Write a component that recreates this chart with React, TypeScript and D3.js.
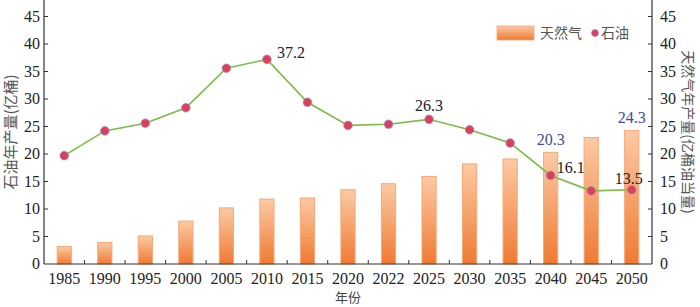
import React from 'react';
import * as d3 from 'd3';

const years = ['1985', '1990', '1995', '2000', '2005', '2010', '2015', '2020', '2022', '2025', '2030', '2035', '2040', '2045', '2050'];
const gasValues = [3.2, 3.9, 5.1, 7.8, 10.2, 11.8, 12.0, 13.5, 14.6, 15.9, 18.2, 19.1, 20.3, 23.0, 24.3];
const oilValues = [19.7, 24.2, 25.6, 28.4, 35.6, 37.2, 29.4, 25.2, 25.4, 26.3, 24.4, 22.0, 16.1, 13.3, 13.5];
const yTicks = [0, 5, 10, 15, 20, 25, 30, 35, 40, 45];
const oilLabels = ['2010', '2025', '2040', '2050'];
const gasLabels = ['2040', '2050'];

const W = 700;
const H = 307;
const margin = { top: 0, right: 48, bottom: 43, left: 44 };
const numFont = '"Liberation Serif", "Times New Roman", serif';
const cjkFont = '"Noto Sans CJK SC", sans-serif';

const App: React.FC = () => {
  const x = d3.scaleBand<string>()
    .domain(years)
    .range([margin.left, W - margin.right])
    .padding(0);

  const y = d3.scaleLinear()
    .domain([0, 48])
    .range([H - margin.bottom, margin.top]);

  const barW = x.bandwidth() * 0.35;
  const cx = (d: string) => (x(d) as number) + x.bandwidth() / 2;
  const bottom = y(0);

  const line = d3.line<number>()
    .x((_, i) => cx(years[i]))
    .y(d => y(d));

  const axisColor = '#333';

  return (
    <svg width={W} height={H} style={{ position: 'absolute', left: 0, top: 0 }}>
      <defs>
        <linearGradient id="gasGrad" x1="0%" y1="0%" x2="0%" y2="100%">
          <stop offset="0%" stopColor="#fccaa4" />
          <stop offset="100%" stopColor="#ef7a32" />
        </linearGradient>
      </defs>

      {/* bars */}
      {years.map((d, i) => (
        <rect
          key={'b' + d}
          x={cx(d) - barW / 2}
          y={y(gasValues[i])}
          width={barW}
          height={bottom - y(gasValues[i])}
          fill="url(#gasGrad)"
          stroke="#f6a878"
          strokeWidth={1}
        />
      ))}

      {/* oil line */}
      <path d={line(oilValues) || ''} fill="none" stroke="#7cbb45" strokeWidth={1.6} />
      {years.map((d, i) => (
        <circle key={'c' + d} cx={cx(d)} cy={y(oilValues[i])} r={4.3} fill="#dd3f5a" stroke="#9a8fc8" strokeWidth={0.8} />
      ))}

      {/* value labels */}
      {oilLabels.map(d => {
        const i = years.indexOf(d);
        const v = oilValues[i];
        let dx = 0;
        let dy = -8;
        let anchor: 'start' | 'middle' = 'middle';
        if (d === '2010') { dx = 10; dy = -1; anchor = 'start'; }
        if (d === '2040') { dx = 6; dy = -2; anchor = 'start'; }
        if (d === '2050') { dx = -3; dy = -6; }
        return (
          <text key={'ol' + d} x={cx(d) + dx} y={y(v) + dy} textAnchor={anchor}
            fontFamily={numFont} fontSize={16} fill="#222">{v.toFixed(1)}</text>
        );
      })}
      {gasLabels.map(d => {
        const i = years.indexOf(d);
        const v = gasValues[i];
        return (
          <text key={'gl' + d} x={cx(d)} y={y(v) - 7} textAnchor="middle"
            fontFamily={numFont} fontSize={16} fill="#3e4a9a">{v.toFixed(1)}</text>
        );
      })}

      {/* x axis */}
      <line x1={margin.left} x2={W - margin.right} y1={bottom} y2={bottom} stroke={axisColor} strokeWidth={1.2} />
      {years.slice(1).map(d => (
        <line key={'xt' + d} x1={x(d)} x2={x(d)} y1={bottom} y2={bottom - 4} stroke={axisColor} />
      ))}
      {years.map(d => (
        <text key={'xl' + d} x={cx(d)} y={bottom + 20} textAnchor="middle"
          fontFamily={numFont} fontSize={16} fill="#222">{d}</text>
      ))}
      <text x={(margin.left + W - margin.right) / 2} y={H - 5} textAnchor="middle"
        fontFamily={cjkFont} fontSize={13} fill="#444">年份</text>

      {/* left axis */}
      <line x1={margin.left} x2={margin.left} y1={0} y2={bottom} stroke={axisColor} strokeWidth={1.2} />
      {yTicks.map(t => (
        <g key={'yl' + t}>
          {t > 0 && <line x1={margin.left} x2={margin.left + 4} y1={y(t)} y2={y(t)} stroke={axisColor} />}
          <text x={margin.left - 4} y={y(t) + 5} textAnchor="end"
            fontFamily={numFont} fontSize={16} fill="#222">{t}</text>
        </g>
      ))}
      <text transform={`translate(16,${bottom / 2}) rotate(-90)`} textAnchor="middle"
        fontFamily={cjkFont} fontSize={15} fill="#555">石油年产量(亿桶)</text>

      {/* right axis */}
      <line x1={W - margin.right} x2={W - margin.right} y1={0} y2={bottom} stroke={axisColor} strokeWidth={1.2} />
      {yTicks.map(t => (
        <g key={'yr' + t}>
          {t > 0 && <line x1={W - margin.right} x2={W - margin.right - 4} y1={y(t)} y2={y(t)} stroke={axisColor} />}
          <text x={W - margin.right + 8} y={y(t) + 5} textAnchor="start"
            fontFamily={numFont} fontSize={16} fill="#222">{t}</text>
        </g>
      ))}
      <text transform={`translate(683,${bottom / 2}) rotate(90)`} textAnchor="middle"
        fontFamily={cjkFont} fontSize={14} fill="#555">天然气年产量(亿桶油当量)</text>

      {/* legend */}
      <rect x={497} y={26} width={37} height={14} fill="url(#gasGrad)" stroke="#f6a878" strokeWidth={0.8} />
      <text x={540} y={38} fontFamily={cjkFont} fontSize={14} fill="#555">天然气</text>
      <circle cx={595} cy={33} r={3.5} fill="#dd3f5a" stroke="#9a8fc8" strokeWidth={0.6} />
      <text x={601} y={38} fontFamily={cjkFont} fontSize={14} fill="#555">石油</text>
    </svg>
  );
};

export default App;
